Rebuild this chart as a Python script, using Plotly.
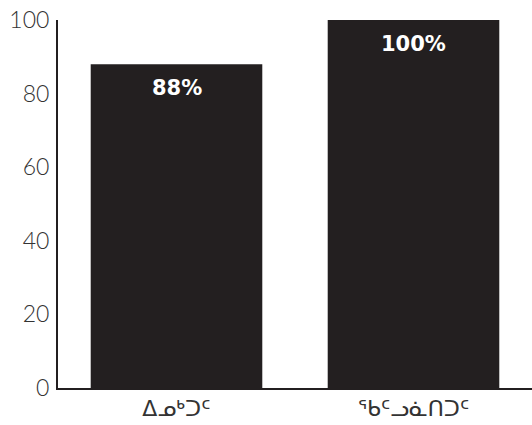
import plotly.graph_objects as go

# Share of respondents by language
categories = ["ᐃᓄᒃᑐᑦ", "ᖃᑦᓗᓈᑎᑐᑦ"]
values = [88, 100]
value_labels = ["88%", "100%"]
y_ticks = [0, 20, 40, 60, 80, 100]

dark = "#231f20"

fig = go.Figure(
    go.Bar(
        x=categories,
        y=values,
        marker=dict(color=dark, line=dict(width=0)),
        width=0.724,
        hoverinfo="skip",
    )
)

# Percent labels inside the top of each bar
for cat, val, lab in zip(categories, values, value_labels):
    fig.add_annotation(
        x=cat, y=val, text=f"<b>{lab}</b>", showarrow=False,
        yanchor="top", yshift=-10,
        font=dict(family="DejaVu Sans", size=21, color="white"),
    )

fig.update_layout(
    width=532, height=425,
    margin=dict(l=58, r=0, t=20, b=37),
    paper_bgcolor="white", plot_bgcolor="white",
    showlegend=False,
    bargap=0.276,
)

fig.update_xaxes(
    type="category", range=[-0.5, 1.5],
    showline=True, linecolor=dark, linewidth=2,
    showgrid=False, ticks="",
    tickfont=dict(family="DejaVu Sans", size=22, color="#333333"),
)
fig.update_yaxes(
    range=[0, 100], tickvals=y_ticks,
    showline=True, linecolor=dark, linewidth=2,
    showgrid=False, zeroline=False, ticks="",
    ticklabelstandoff=2,
    tickfont=dict(family="Lato", size=23, weight=300, color="#333333"),
)

fig.write_html("out.html")
